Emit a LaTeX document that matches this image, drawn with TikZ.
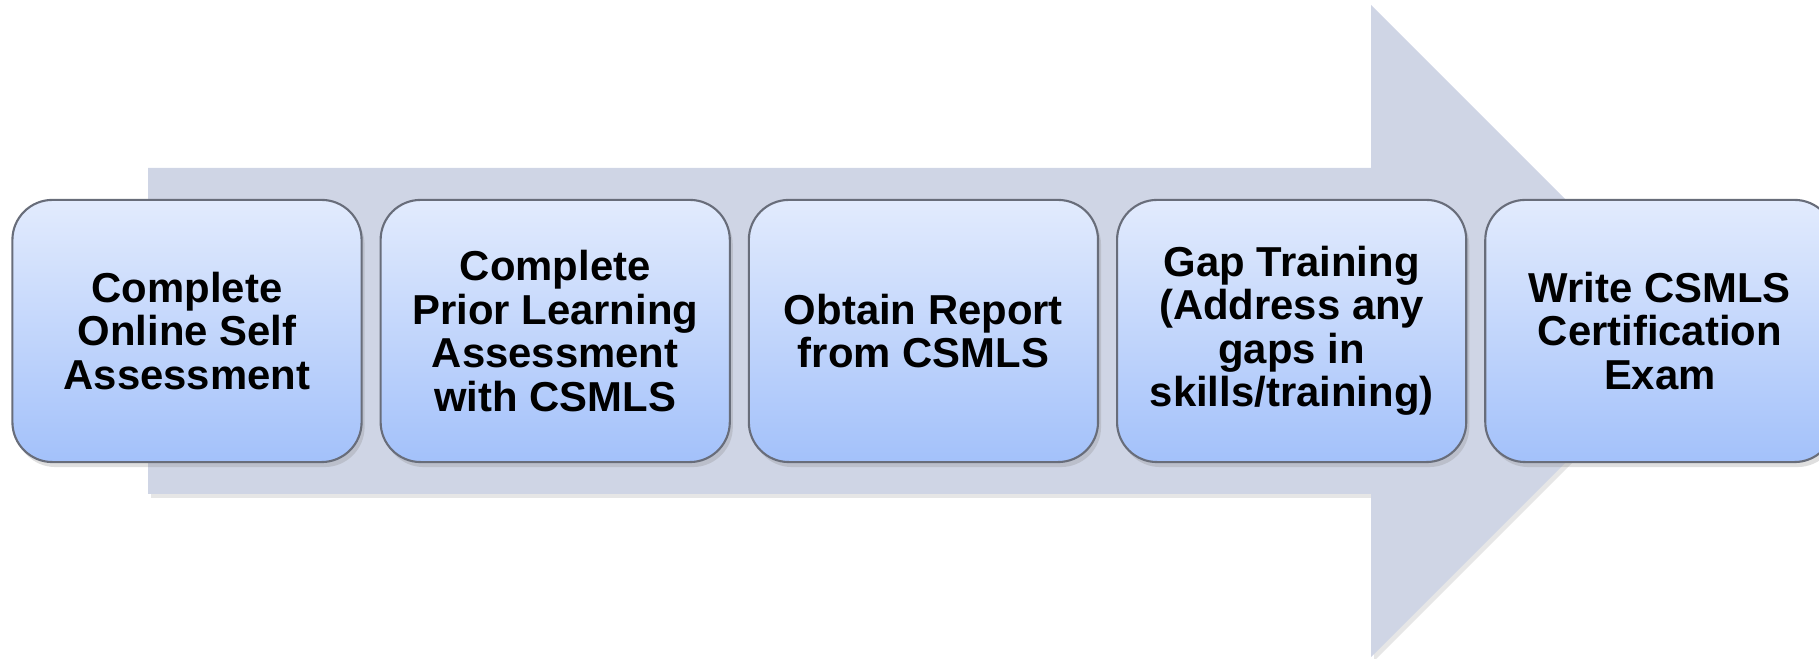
\documentclass[tikz,border=0pt]{standalone}
\usepackage{fontspec}
\setmainfont{Liberation Sans}
\usetikzlibrary{positioning,shadows}

\definecolor{arrowgray}{HTML}{CFD5E5}
\definecolor{boxtop}{HTML}{E2EBFD}
\definecolor{boxbot}{HTML}{A3C1FA}
\definecolor{boxline}{HTML}{686D7A}

\tikzset{
  stepbox/.style={draw=boxline, line width=0.6pt, rounded corners=0.4cm,
    top color=boxtop, bottom color=boxbot,
    minimum width=3.49cm, minimum height=2.62cm, inner sep=0pt, outer sep=0pt,
    align=center, font=\fontsize{11.9}{12.35}\selectfont\bfseries,
    drop shadow={opacity=0.25, shadow xshift=0.03cm, shadow yshift=-0.05cm}},
}

\begin{document}
\begin{tikzpicture}[x=0.01cm, y=0.01cm]
  \useasboundingbox (0,0) rectangle (1819,659);

  % big arrow behind the steps
  \fill[arrowgray, drop shadow={opacity=0.2, shadow xshift=0.03cm, shadow yshift=-0.04cm}]
       (148,491) -- (1371,491) -- (1371,654) -- (1697,328) --
       (1371,2) -- (1371,165) -- (148,165) -- cycle;

  % steps
  \node[stepbox] (self) at (187,328) {Complete\\Online Self\\Assessment};
  \node[stepbox, right=0.19cm of self] (prior) {Complete\\Prior Learning\\Assessment\\with CSMLS};
  \node[stepbox, right=0.19cm of prior] (report) {Obtain Report\\from CSMLS};
  \node[stepbox, right=0.19cm of report] (gap) {Gap Training\\(Address any\\gaps in\\skills/training)};
  \node[stepbox, right=0.19cm of gap] (exam) {Write CSMLS\\Certification\\Exam};

\end{tikzpicture}
\end{document}
